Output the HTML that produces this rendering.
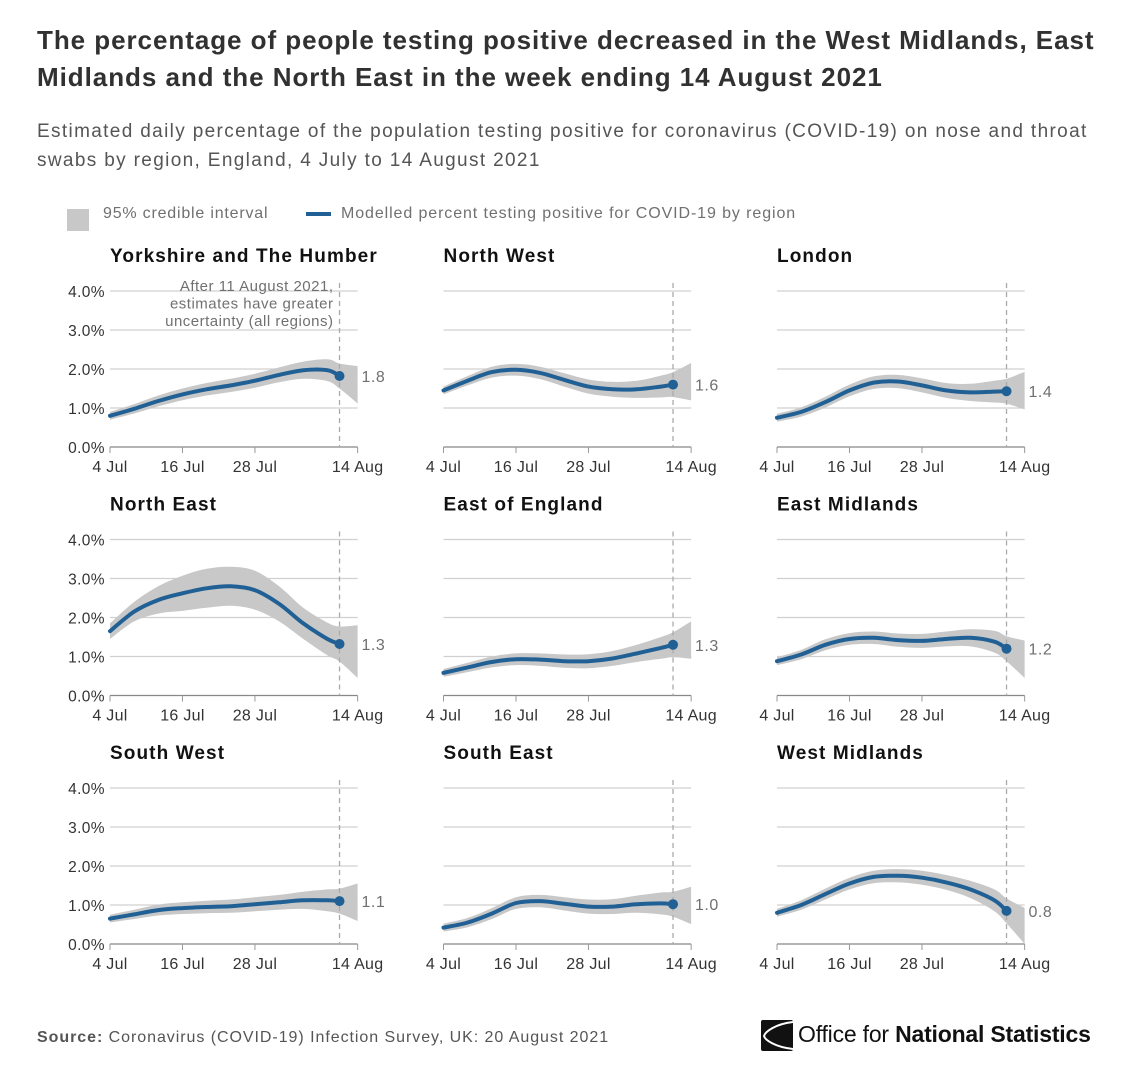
<!DOCTYPE html>
<html><head><meta charset="utf-8">
<style>
html,body{margin:0;padding:0;background:#fff;}
body{width:1135px;height:1077px;overflow:hidden;font-family:"Liberation Sans",sans-serif;position:relative;}
.t{position:absolute;white-space:nowrap;}
</style></head>
<body>
<div class="t" style="left:37px;top:22px;font-size:26px;font-weight:bold;color:#323132;line-height:37px;letter-spacing:0.95px">The percentage of people testing positive decreased in the West Midlands, East<br>Midlands and the North East in the week ending 14 August 2021</div>
<div class="t" style="left:37px;top:117px;font-size:19px;color:#555;line-height:29px;letter-spacing:1.35px">Estimated daily percentage of the population testing positive for coronavirus (COVID-19) on nose and throat<br>swabs by region, England, 4 July to 14 August 2021</div>
<div style="position:absolute;left:67px;top:209px;width:22px;height:22px;background:#c8c8c8"></div>
<div class="t" style="left:103px;top:205px;font-size:16px;color:#707070;letter-spacing:0.8px">95% credible interval</div>
<div style="position:absolute;left:306px;top:212px;width:25px;height:4px;background:#206095"></div>
<div class="t" style="left:341px;top:205px;font-size:16px;color:#707070;letter-spacing:0.9px">Modelled percent testing positive for COVID-19 by region</div>

<svg id="chart" width="1135" height="1000" style="position:absolute;left:0;top:0" xmlns="http://www.w3.org/2000/svg"></svg>

<div class="t" style="left:37px;top:1029px;font-size:16px;color:#555;letter-spacing:0.95px"><b>Source:</b> Coronavirus (COVID-19) Infection Survey, UK: 20 August 2021</div>
<svg style="position:absolute;left:761px;top:1020px" width="32" height="31"><rect width="32" height="31" rx="2" fill="#111"/><path d="M32 2 C14 4 4 12 3 16 C4 20 14 27 32 29" stroke="#fff" stroke-width="2" fill="none"/></svg>
<div class="t" style="left:798px;top:1021px;font-size:23px;color:#111;letter-spacing:-0.2px">Office for <b style="font-weight:600">National Statistics</b></div>

<script>
const days = [0,4,8,12,16,20,24,28,32,36,38];
const regions = ["Yorkshire and The Humber","North West","London","North East","East of England","East Midlands","South West","South East","West Midlands"];
const yorks = [0.8,0.98,1.18,1.35,1.48,1.58,1.7,1.85,1.97,1.97,1.82];
const northWest = [1.45,1.7,1.92,1.98,1.9,1.72,1.55,1.48,1.48,1.55,1.6];
const london = [0.75,0.9,1.15,1.45,1.65,1.68,1.58,1.45,1.4,1.42,1.43];
const northEast = [1.65,2.15,2.45,2.62,2.75,2.8,2.7,2.35,1.85,1.45,1.32];
const eastEngland = [0.58,0.72,0.86,0.93,0.92,0.88,0.88,0.95,1.08,1.22,1.3];
const eastMidlands = [0.88,1.05,1.3,1.45,1.48,1.42,1.4,1.45,1.48,1.38,1.2];
const southWest = [0.65,0.76,0.87,0.92,0.95,0.97,1.02,1.07,1.12,1.12,1.1];
const southEast = [0.42,0.55,0.78,1.05,1.1,1.03,0.96,0.96,1.02,1.04,1.02];
const westMidlands = [0.8,1.0,1.28,1.55,1.72,1.75,1.7,1.58,1.4,1.12,0.85];
const halfWidth = [0.1,0.12,0.14,0.15,0.16,0.17,0.18,0.19,0.22,0.28,0.32];
const halfWidthNE = [0.2,0.25,0.35,0.45,0.5,0.5,0.5,0.45,0.4,0.42,0.45];
const endLabels = ["1.8","1.6","1.4","1.3","1.3","1.2","1.1","1.0","0.8"];
const yTicks = [0,1,2,3,4];
const yTickLabels = ["0.0%","1.0%","2.0%","3.0%","4.0%"];
const xTickDays = [0,12,24,41];
const xTickLabels = ["4 Jul","16 Jul","28 Jul","14 Aug"];
const series = [yorks,northWest,london,northEast,eastEngland,eastMidlands,southWest,southEast,westMidlands];

const NS="http://www.w3.org/2000/svg";
const svg=document.getElementById('chart');
function mk(tag,attrs,parent){const e=document.createElementNS(NS,tag);for(const k in attrs)e.setAttribute(k,attrs[k]);(parent||svg).appendChild(e);return e;}
function smooth(pts){let d="M"+pts[0][0]+","+pts[0][1];for(let i=0;i<pts.length-1;i++){const p0=pts[Math.max(0,i-1)],p1=pts[i],p2=pts[i+1],p3=pts[Math.min(pts.length-1,i+2)];const c1=[p1[0]+(p2[0]-p0[0])/6,p1[1]+(p2[1]-p0[1])/6],c2=[p2[0]-(p3[0]-p1[0])/6,p2[1]-(p3[1]-p1[1])/6];d+=" C"+c1[0].toFixed(1)+","+c1[1].toFixed(1)+" "+c2[0].toFixed(1)+","+c2[1].toFixed(1)+" "+p2[0].toFixed(1)+","+p2[1].toFixed(1);}return d;}

regions.forEach((name,i)=>{
  const col=i%3,row=Math.floor(i/3);
  const x0=110+col*333.5, y0=447+row*248.5;
  const xs=d=>x0+d*6.04, ys=v=>y0-v*39;
  const g=mk('g',{});
  
  
  const t=mk('text',{x:x0,y:y0-185,'font-size':19,'font-weight':'bold',fill:'#111','letter-spacing':1.1},g);t.textContent=name;
  
  yTicks.forEach((v,k)=>{
    const l=mk('line',{x1:x0,x2:xs(41),y1:ys(v),y2:ys(v),stroke:v===0?'#888':'#d0d0d0','stroke-width':1.2},g);
    
    if(col===0){const tl=mk('text',{x:x0-5,y:ys(v)+6,'text-anchor':'end','font-size':15.5,fill:'#333','letter-spacing':0.4},g);tl.textContent=yTickLabels[k];
      }
  });
  xTickDays.forEach((d,k)=>{
    const tk=mk('line',{x1:xs(d),x2:xs(d),y1:y0,y2:y0+6,stroke:'#999','stroke-width':1},g);
    
    const tl=mk('text',{x:xs(d),y:y0+25,'text-anchor':'middle','font-size':16,fill:'#333','letter-spacing':0.3},g);tl.textContent=xTickLabels[k];
    
  });
  const vals=series[i], hw=i===3?halfWidthNE:halfWidth;
  const n=vals.length;
  const cEnd=vals[n-1]+(vals[n-1]-vals[n-2])*1.5;
  const hwEnd=hw[n-1]*1.5;
  const bd=days.concat([41]), bc=vals.concat([cEnd]), bh=hw.concat([hwEnd]);
  const up=bd.map((d,k)=>[xs(d),ys(bc[k]+bh[k])]);
  const lo=bd.map((d,k)=>[xs(d),ys(Math.max(0,bc[k]-bh[k]))]).reverse();
  const band=mk('path',{d:smooth(up)+" L"+lo[0][0]+","+lo[0][1]+smooth(lo).slice(smooth(lo).indexOf(' C'))+" Z",fill:'#c8c8c8'},g);
  
  const dl=mk('line',{x1:xs(38),x2:xs(38),y1:ys(4)-8,y2:y0,stroke:'#aaa','stroke-width':1.3,'stroke-dasharray':'5,4'},g);
  
  const ln=mk('path',{d:smooth(days.map((d,k)=>[xs(d),ys(vals[k])])),fill:'none',stroke:'#206095','stroke-width':4,'stroke-linecap':'round'},g);
  
  const dot=mk('circle',{cx:xs(38),cy:ys(vals[n-1]),r:5,fill:'#206095'},g);
  
  const el=mk('text',{x:xs(38)+22,y:ys(vals[n-1])+6,'font-size':16,fill:'#707070','letter-spacing':0.5},g);el.textContent=endLabels[i];
  
  if(i===0){
    ["After 11 August 2021,","estimates have greater","uncertainty (all regions)"].forEach((s,k)=>{
      const a=mk('text',{x:xs(38)-6,y:291+k*17.5,'text-anchor':'end','font-size':15,fill:'#707070','letter-spacing':0.5},g);a.textContent=s;
      
    });
  }
});
</script>
</body></html>
